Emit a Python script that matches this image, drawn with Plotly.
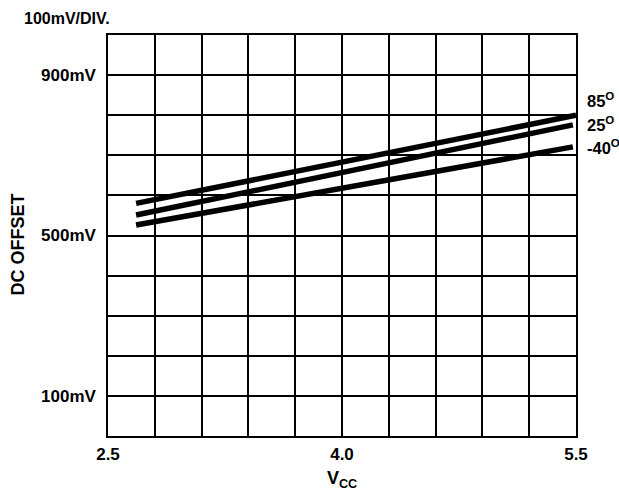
import plotly.graph_objects as go

vcc = [2.68, 5.50]
vcc_b = [2.68, 5.48]
offset_85 = [580, 800]
offset_25 = [551, 776]
offset_m40 = [526, 721]
series_labels = ["85", "25", "-40"]
label_y = [837, 778, 721]

x_ticks = [2.5 + 0.3 * i for i in range(11)]
x_ticktext = ["2.5", "", "", "", "", "4.0", "", "", "", "", "5.5"]
y_ticks = [100 * i for i in range(11)]
y_ticktext = ["", "100mV", "", "", "", "500mV", "", "", "", "900mV", ""]

FONT = "Liberation Sans, Arial, sans-serif"
W, H = 619, 491
L, R, T, B = 108, 43, 35, 55

fig = go.Figure()
for xs, ys, name in [(vcc, offset_85, "85"), (vcc_b, offset_25, "25"), (vcc_b, offset_m40, "-40")]:
    fig.add_trace(go.Scatter(x=xs, y=ys, mode="lines", name=name,
                             line=dict(color="black", width=5.5), showlegend=False))

for lbl, ly in zip(series_labels, label_y):
    fig.add_annotation(x=1.0, xref="paper", xshift=9, y=ly, yref="y",
                       text="<b>" + lbl + "<sup>O</sup></b>", showarrow=False,
                       xanchor="left", yanchor="middle",
                       font=dict(family=FONT, size=16.5, color="black"))

fig.add_annotation(x=-(L - 22) / (W - L - R), xref="paper", y=1.0, yref="paper", yshift=17,
                   text="<b>100mV/DIV.</b>", showarrow=False, xanchor="left", yanchor="middle",
                   font=dict(family=FONT, size=16, color="black"))

fig.add_annotation(x=-(L - 17) / (W - L - R), xref="paper", y=0.5, yref="paper", yshift=-9,
                   text="<b>DC OFFSET</b>", showarrow=False, textangle=-90,
                   xanchor="center", yanchor="middle",
                   font=dict(family=FONT, size=18, color="black"))

fig.add_annotation(x=0.5, xref="paper", y=0.0, yref="paper", yshift=-43,
                   text="<b>V<sub>CC</sub></b>", showarrow=False,
                   xanchor="center", yanchor="middle",
                   font=dict(family=FONT, size=18, color="black"))

fig.update_layout(
    width=W, height=H,
    margin=dict(l=L, r=R, t=T, b=B),
    paper_bgcolor="white", plot_bgcolor="white",
    font=dict(family=FONT, size=17, color="black"),
    xaxis=dict(range=[2.5, 5.5], tickvals=x_ticks, ticktext=x_ticktext,
               showgrid=True, gridcolor="black", gridwidth=1.5,
               showline=True, linecolor="black", linewidth=1.5, mirror=True,
               zeroline=False, ticks="", ticklabelstandoff=2,
               tickfont=dict(family=FONT, size=17, color="black", weight="bold")),
    yaxis=dict(range=[0, 1000], tickvals=y_ticks, ticktext=y_ticktext,
               showgrid=True, gridcolor="black", gridwidth=1.5,
               showline=True, linecolor="black", linewidth=1.5, mirror=True,
               zeroline=False, ticks="", ticklabelstandoff=7,
               tickfont=dict(family=FONT, size=17, color="black", weight="bold")),
)

fig.write_html("out.html", config={"displayModeBar": False},
               post_script="document.body.style.margin='0';")
